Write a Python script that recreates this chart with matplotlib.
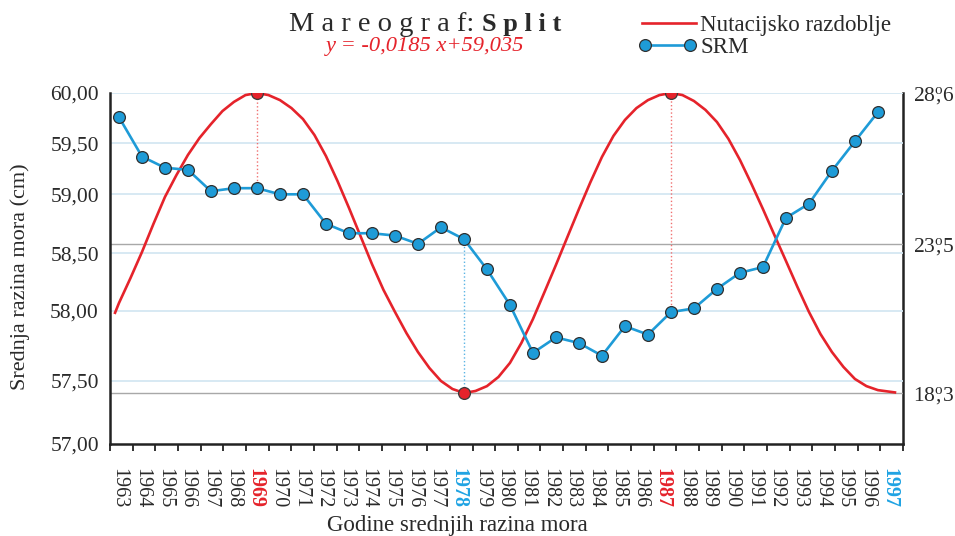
import numpy as np
import matplotlib.pyplot as plt
from matplotlib.lines import Line2D
from matplotlib.transforms import blended_transform_factory

plt.rcParams['font.family'] = ['Liberation Serif', 'DejaVu Serif']
plt.rcParams['mathtext.fontset'] = 'custom'
plt.rcParams['mathtext.rm'] = 'Liberation Serif'
plt.rcParams['mathtext.it'] = 'Liberation Serif:italic'

# mean sea level (SRM), Split tide gauge
years = list(range(1963, 1997))
srm = [59.76, 59.37, 59.26, 59.24, 59.03, 59.06, 59.06, 59.00, 59.00, 58.75,
       58.67, 58.67, 58.65, 58.58, 58.72, 58.62, 58.36, 58.05, 57.70, 57.81,
       57.77, 57.68, 57.89, 57.83, 57.99, 58.02, 58.19, 58.33, 58.38, 58.80,
       58.92, 59.23, 59.52, 59.81]

# nutation period curve (degrees, right axis), read every half year
red_years = [1962.83] + list(np.arange(1963, 1996.5, 0.5)) + [1996.74]
red_deg = [21.10,
           21.44, 22.31, 23.22, 24.18, 25.09, 25.83, 26.51, 27.08, 27.55, 27.99,
           28.30, 28.53, 28.60,
           28.53, 28.36, 28.09, 27.72, 27.18, 26.47, 25.63, 24.72, 23.77, 22.80,
           21.90, 21.13, 20.39, 19.73, 19.17, 18.72, 18.44, 18.30,
           18.37, 18.54, 18.86, 19.35, 20.05, 20.88, 21.82, 22.77, 23.74, 24.68,
           25.59, 26.44, 27.15, 27.69, 28.09, 28.36, 28.53, 28.60,
           28.53, 28.33, 28.03, 27.62, 27.05, 26.34, 25.53, 24.68, 23.80, 22.91,
           22.00, 21.13, 20.36, 19.73, 19.21, 18.79, 18.54, 18.40,
           18.32]

extreme_years = [1969, 1978, 1987]
extreme_deg = [28.6, 18.3, 28.6]

label_years = list(range(1963, 1998))
red_years_hl = [1969, 1987]
blue_years_hl = [1978, 1997]

left_ticks = [57.0, 57.5, 58.0, 58.5, 59.0, 59.5, 60.0]
left_labels = ['57,00', '57,50', '58,00', '58,50', '59,00', '59,50', '60,00']
right_ticks = [18.3, 23.5, 28.6]
right_labels = [r'$18\overset{\mathrm{o}}{,}3$', r'$23\overset{\mathrm{o}}{,}5$',
                r'$28\overset{\mathrm{o}}{,}6$']

# the drawn axes are not evenly spaced: piecewise scales (value -> height px)
left_pos = [0, 63, 133.3, 190.7, 249.7, 300.7, 351]
right_vals = [16.52, 18.3, 23.5, 28.6]
right_pos = [0, 51, 200, 351]

RED = '#e5232b'
BLUE = '#1e9bd7'
BLUE_TXT = '#1fa3e3'
TXT = '#2a2a2a'


def piecewise(vals, pos):
    return (lambda v: np.interp(v, vals, pos),
            lambda p: np.interp(p, pos, vals))


fig = plt.figure(figsize=(9.55, 5.36), dpi=100)
ax = fig.add_axes([110 / 955, 92 / 536, 793 / 955, 351 / 536])
ax2 = ax.twinx()
ax.set_zorder(ax2.get_zorder() + 1)
ax.patch.set_visible(False)

ax.set_yscale('function', functions=piecewise(left_ticks, left_pos))
ax2.set_yscale('function', functions=piecewise(right_vals, right_pos))
xmin, xmax = 1962.61, 1997.09
ax.set_xlim(xmin, xmax)
ax.set_ylim(57, 60)
ax2.set_ylim(right_vals[0], 28.6)

# grid lines
for v in left_ticks[1:]:
    ax.axhline(v, color='#d4e7f2', lw=1.3, zorder=1)
gray_tr = blended_transform_factory(ax.transAxes, ax2.transData)
for v in right_ticks[:2]:
    ax.plot([0, 1], [v, v], color='#a8a8a8', lw=1.0, transform=gray_tr, zorder=1.5)

# red curve drawn in right-axis units
red_tr = blended_transform_factory(ax.transData, ax2.transData)
ax.plot(red_years, red_deg, color=RED, lw=1.9, transform=red_tr, zorder=2,
        solid_joinstyle='round')

# dotted connectors between the extremes and SRM
for yr, d in zip(extreme_years, extreme_deg):
    y_srm = srm[years.index(yr)]
    px = ax2.transData.transform((yr, d))
    y_red = ax.transData.inverted().transform(px)[1]
    col = '#f07070' if d > 23.5 else '#5ab4e4'
    ax.plot([yr, yr], [y_srm, y_red], color=col, lw=1.0, ls=':', zorder=2.5)

ax.plot(years, srm, color=BLUE, lw=1.9, marker='o', ms=8.5,
        mfc=BLUE, mec='#2f2f2f', mew=0.9, zorder=4)
ax.plot(extreme_years, extreme_deg, ls='none', marker='o', ms=8.5,
        mfc=RED, mec='#3a3a3a', mew=0.9, transform=red_tr, zorder=5)

# axes styling
for s in ['top', 'right']:
    ax.spines[s].set_visible(False)
for s in ['top', 'left', 'bottom']:
    ax2.spines[s].set_visible(False)
for sp in [ax.spines['left'], ax.spines['bottom'], ax2.spines['right']]:
    sp.set_linewidth(1.8)
    sp.set_color('#222222')

ax.set_yticks(left_ticks)
ax.set_yticklabels(left_labels)
ax.yaxis.set_minor_locator(plt.NullLocator())
ax.tick_params(axis='y', length=0, pad=8, labelsize=15.5, labelcolor=TXT)

ax2.set_yticks(right_ticks)
ax2.set_yticklabels(right_labels)
ax2.yaxis.set_minor_locator(plt.NullLocator())
ax2.tick_params(axis='y', length=0, pad=7, labelsize=15.5, labelcolor=TXT)

tick_edges = np.linspace(xmin, xmax, 36)
label_pos = tick_edges[:-1] + 0.39
ax.set_xticks(label_pos)
ax.set_xticklabels([str(y) for y in label_years], rotation=-90)
ax.set_xticks(tick_edges, minor=True)
ax.tick_params(axis='x', which='major', length=0, pad=17, labelsize=14.5, labelcolor=TXT)
ax.tick_params(axis='x', which='minor', length=5, width=1.3, color='#222222')
for lab, yr in zip(ax.get_xticklabels(), label_years):
    if yr in red_years_hl:
        lab.set_color(RED)
        lab.set_fontweight('bold')
    elif yr in blue_years_hl:
        lab.set_color(BLUE_TXT)
        lab.set_fontweight('bold')

# axis titles
fig.text(20 / 955, 1 - 277 / 536, 'Srednja razina mora (cm)', rotation=90,
         ha='center', va='center', fontsize=16, color=TXT)
fig.text(457 / 955, 1 - 531 / 536, 'Godine srednjih razina mora',
         ha='center', va='baseline', fontsize=16.5, color=TXT)

# title and regression
fig.text(289 / 955, 1 - 31 / 536, 'M a r e o g r a f:', fontsize=20.5,
         va='baseline', color=TXT)
fig.text(482 / 955, 1 - 31 / 536, 'S p l i t', fontsize=19, fontweight='bold',
         va='baseline', color=TXT)
fig.text(425 / 955, 1 - 51.5 / 536, 'y = -0,0185 x+59,035', fontsize=16.2,
         style='italic', ha='center', va='baseline', color=RED)

# legend
fig.add_artist(Line2D([642 / 955, 696 / 955], [1 - 23 / 536] * 2,
                      color=RED, lw=1.9, transform=fig.transFigure))
fig.text(700 / 955, 1 - 31 / 536, 'Nutacijsko razdoblje', fontsize=16.6,
         va='baseline', color=TXT)
fig.add_artist(Line2D([645 / 955, 690 / 955], [1 - 45 / 536] * 2,
                      color=BLUE, lw=1.9, marker='o', ms=8.5, mfc=BLUE,
                      mec='#2f2f2f', mew=0.9, transform=fig.transFigure))
fig.text(700 / 955, 1 - 53 / 536, 'SRM', fontsize=16.6, va='baseline', color=TXT)

fig.savefig('out.png', dpi=100)
